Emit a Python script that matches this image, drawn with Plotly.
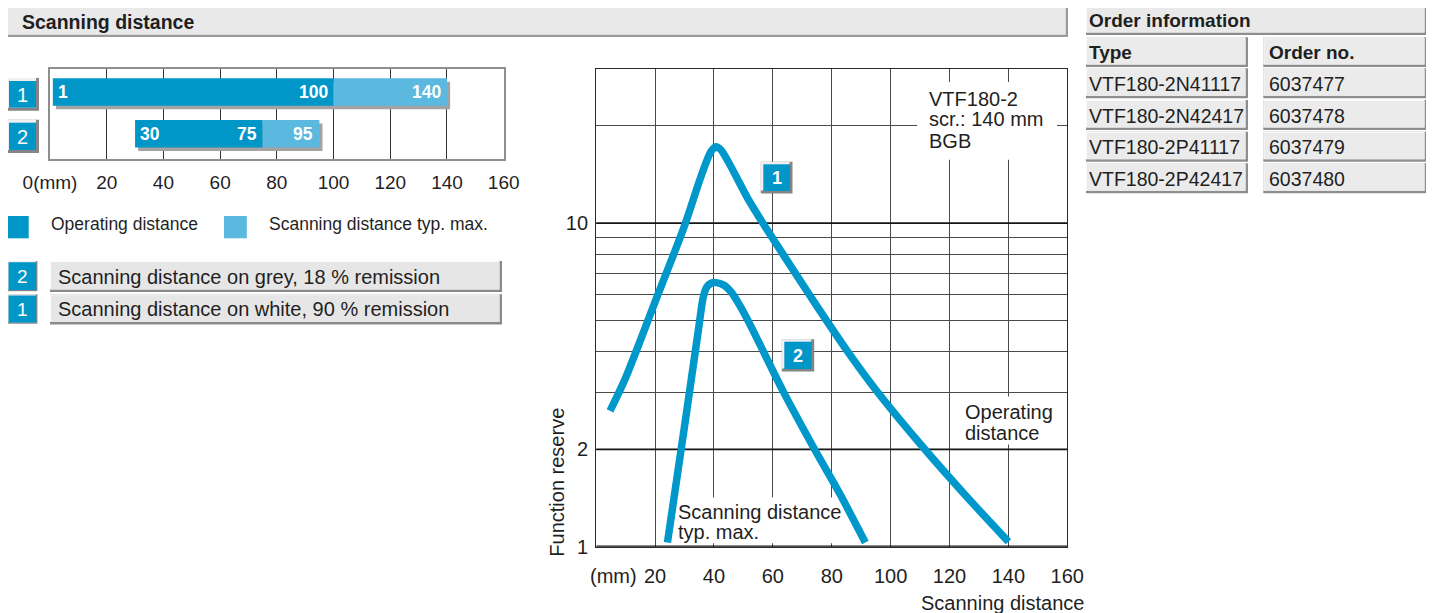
import math
import plotly.graph_objects as go

W, H = 1434, 613
OFF = 8  # page body margin of the HTML page, compensated here
FONT = "Liberation Sans, Arial, sans-serif"
INK = "#1f1f1f"
DARK_BLUE = "#0096c8"
LIGHT_BLUE = "#5bb8de"
CURVE_BLUE = "#0098cb"
SHADOW = "#a3a3a3"

# ---------------- data ----------------
# overview bars (mm)
bar_rows = [1, 2]
bar_row_labels = ["1", "2"]
op_start = [1, 30]
op_end = [100, 75]
max_end = [140, 95]
bar_ticks = [0, 20, 40, 60, 80, 100, 120, 140, 160]
bar_ticktext = ["0(mm)", "20", "40", "60", "80", "100", "120", "140", "160"]
legend_labels = ["Operating distance", "Scanning distance typ. max."]
remission_ids = ["2", "1"]
remission_labels = ["Scanning distance on grey, 18 % remission",
                    "Scanning distance on white, 90 % remission"]

# function reserve curves (x in mm, y = function reserve)
curve1_x = [4.7, 10, 20, 30, 35.5, 39, 40.7, 42.4, 45, 51.5, 58.5, 66, 75, 85, 95, 110, 125, 140]
curve1_y = [2.63, 3.33, 5.71, 9.82, 13.87, 16.67, 17.24, 16.83, 15.40, 11.91, 9.40, 7.38, 5.53,
            4.06, 3.05, 2.08, 1.455, 1.036]
curve2_x = [24.2, 30.3, 34.7, 36.4, 37.6, 39.0, 40.7, 43.4, 46.0, 48.8, 52.0, 63.6, 74.3, 82.7, 91.4]
curve2_y = [1.03, 2.46, 4.67, 5.93, 6.35, 6.52, 6.55, 6.43, 6.10, 5.56, 4.91, 3.01, 1.99, 1.46, 1.03]
main_x_ticks = [20, 40, 60, 80, 100, 120, 140, 160]
main_y_grid = [1, 2, 3, 4, 5, 6, 7, 8, 9, 10, 20]
main_y_labels = {1: "1", 2: "2", 10: "10"}
chart_note = ["VTF180-2", "scr.: 140 mm", "BGB"]

# order information
order_types = ["VTF180-2N41117", "VTF180-2N42417", "VTF180-2P41117", "VTF180-2P42417"]
order_numbers = ["6037477", "6037478", "6037479", "6037480"]

# ---------------- helpers ----------------
shapes = []
annotations = []


def px(x):
    return (x - OFF) / W


def py(y):
    return 1 - (y - OFF) / H


def rect(x0, y0, x1, y1, fill, layer="above"):
    shapes.append(dict(type="rect", xref="paper", yref="paper",
                       x0=px(x0), x1=px(x1), y0=py(y1), y1=py(y0),
                       fillcolor=fill, line=dict(width=0), layer=layer))


def text(x, y, s, size, color=INK, bold=False, xanchor="left", yanchor="middle", angle=0):
    annotations.append(dict(xref="paper", yref="paper", x=px(x), y=py(y),
                            text=f"<b>{s}</b>" if bold else s, showarrow=False,
                            xanchor=xanchor, yanchor=yanchor, textangle=angle,
                            font=dict(family=FONT, size=size, color=color)))


def cell(x0, y0, x1, y1, fill="#ebebeb", dark="#8e8e8e", light="#fbfbfb", d=2.5):
    rect(x0, y0, x1, y1, dark)
    rect(x0, y0, x1 - d, y1 - d, light)
    rect(x0 + 1, y0 + 1, x1 - d, y1 - d, fill)


def badge(x0, y0, x1, y1, label, size, bold=False, p=3, d=3):
    rect(x0 - p, y0 - p, x1 + p, y1 + p, "#858585")
    rect(x0 - p, y0 - p, x1 + p - d, y1 + p - d, "#f0f0f0")
    rect(x0, y0, x1, y1, DARK_BLUE)
    text((x0 + x1) / 2, (y0 + y1) / 2 + 0.5, label, size, "white", bold, xanchor="center")


# ---------------- figure ----------------
fig = go.Figure()

# overview bars
lengths_total = [m - s for s, m in zip(op_start, max_end)]
fig.add_trace(go.Bar(orientation="h", y=bar_rows, base=[s + 1.1 for s in op_start], x=lengths_total,
                     width=0.658, offset=-0.245, marker=dict(color=SHADOW, line=dict(width=0)),
                     xaxis="x2", yaxis="y2", hoverinfo="skip", showlegend=False))
fig.add_trace(go.Bar(orientation="h", y=bar_rows, base=op_start,
                     x=[e - s for s, e in zip(op_start, op_end)],
                     width=0.658, offset=-0.329, marker=dict(color=DARK_BLUE, line=dict(width=0)),
                     xaxis="x2", yaxis="y2", name=legend_labels[0], showlegend=False))
fig.add_trace(go.Bar(orientation="h", y=bar_rows, base=op_end,
                     x=[m - e for e, m in zip(op_end, max_end)],
                     width=0.658, offset=-0.329, marker=dict(color=LIGHT_BLUE, line=dict(width=0)),
                     xaxis="x2", yaxis="y2", name=legend_labels[1], showlegend=False))

# function reserve curves
for cx, cy in ((curve1_x, curve1_y), (curve2_x, curve2_y)):
    fig.add_trace(go.Scatter(x=cx, y=cy, mode="lines",
                             line=dict(color=CURVE_BLUE, width=7.5, shape="spline", smoothing=0.8),
                             xaxis="x", yaxis="y", hoverinfo="skip", showlegend=False))

# bar value labels
for r, s, e, m in zip(bar_rows, op_start, op_end, max_end):
    for xv, anchor, shift in ((s, "left", 3), (e, "right", -4), (m, "right", -4)):
        annotations.append(dict(xref="x2", yref="y2", x=xv, y=r, text=f"<b>{xv}</b>",
                                showarrow=False, xanchor=anchor, yanchor="middle", xshift=shift,
                                font=dict(family=FONT, size=17.5, color="white")))

# ---- header bar "Scanning distance"
cell(6, 6, 1068, 37, fill="#e9e9e9", dark="#9a9a9a")
text(20, 22.5, "Scanning distance", 19.5, bold=True)

# ---- row badges of the overview
for r, lab, (y0, y1) in zip(bar_rows, bar_row_labels, [(81, 107.7), (122.7, 150)]):
    badge(9, y0, 36, y1, lab, 20)

# ---- legend
rect(6, 216, 28.7, 238.3, DARK_BLUE)
text(49, 223.5, legend_labels[0], 17.5)
rect(224, 216, 246.8, 238.3, LIGHT_BLUE)
text(267, 223.5, legend_labels[1], 17.5)

# ---- remission label boxes
for lab, desc, (y0, y1) in zip(remission_ids, remission_labels, [(261, 292), (294.3, 324.5)]):
    badge(8.5, y0 + 1.2, 36.2, y1 - 2, lab, 19, p=1.2, d=1.5)
    cell(50, y0, 502, y1, fill="#e6e6e6", dark="#8a8a8a")
    text(56, (y0 + y1) / 2, desc, 20)

# ---- badges inside the main chart
badge(763.3, 164.3, 790, 191, "1", 18, bold=True, p=2.5, d=3)
badge(784.3, 341.7, 811.7, 369, "2", 18, bold=True, p=2.5, d=3)

# ---- main chart texts
for i, line in enumerate(chart_note):
    text(927, 98.5 + i * 21, line, 20)
text(963, 411.7, "Operating", 20)
text(963, 433.3, "distance", 20)
text(676, 511.7, "Scanning distance", 20)
text(676, 531.7, "typ. max.", 20)
text(556.7, 482, "Function reserve", 20, angle=-90, xanchor="center")
text(919, 603.3, "Scanning distance", 20)
text(613, 576, "(mm)", 20, xanchor="center")

# ---- order information table
cell(1086, 4, 1427, 35, fill="#e9e9e9", dark="#8e8e8e")
text(1087, 20.5, "Order information", 19, bold=True)
cell(1086, 37.3, 1248, 67, fill="#ebebeb")
cell(1263.3, 37.3, 1427, 67, fill="#ebebeb")
text(1087, 52.5, "Type", 19, bold=True)
text(1267, 52.5, "Order no.", 19, bold=True)
row_bounds = [(68.3, 98.3), (100, 130), (131.7, 161.7), (163.3, 193.3)]
for t, n, (y0, y1) in zip(order_types, order_numbers, row_bounds):
    cell(1086, y0, 1248, y1, fill="#ebebeb")
    cell(1263.3, y0, 1427, y1, fill="#ebebeb")
    text(1087, (y0 + y1) / 2 + 0.5, t, 19.5)
    text(1267, (y0 + y1) / 2 + 0.5, n, 19.5)

# ---- data-space shapes in the main chart (between grid and curves); log axis uses raw values
for v, w in ((2, 1.8), (10, 1.8), (1, 2.6)):
    shapes.append(dict(type="line", xref="x", yref="y", x0=0, x1=160, y0=v, y1=v,
                       line=dict(color="#151515", width=w), layer="between"))
for x0, x1, y0, y1 in ((109.0, 156.5, 15.7, 27.3),
                       (121.9, 159.6, 2.07, 2.91),
                       (26.4, 84.5, 1.025, 1.42)):
    shapes.append(dict(type="rect", xref="x", yref="y", x0=x0, x1=x1, y0=y0, y1=y1,
                       fillcolor="white", line=dict(width=0), layer="between"))

tick_font = dict(family=FONT, size=20, color=INK)
fig.update_layout(
    width=W, height=H, autosize=False,
    margin=dict(l=0, r=0, t=0, b=0, pad=0, autoexpand=False),
    paper_bgcolor="white", plot_bgcolor="white",
    barmode="overlay", hovermode=False, showlegend=False,
    xaxis=dict(domain=[px(596.2), px(1067.3)], range=[0, 160], anchor="y", automargin=False,
               tickmode="array", tickvals=main_x_ticks, ticktext=[str(v) for v in main_x_ticks],
               showgrid=True, gridcolor="#4a4a4a", gridwidth=1, zeroline=False,
               showline=True, mirror=True, linecolor="#2a2a2a", linewidth=1.3,
               ticks="outside", ticklen=11, tickcolor="rgba(0,0,0,0)", tickfont=tick_font),
    yaxis=dict(domain=[py(546.7), py(68.8)], type="log", range=[0, math.log10(30)], anchor="x",
               automargin=False, tickmode="array", tickvals=main_y_grid,
               ticktext=[main_y_labels.get(v, "") for v in main_y_grid],
               showgrid=True, gridcolor="#4a4a4a", gridwidth=1, zeroline=False,
               showline=True, mirror=True, linecolor="#2a2a2a", linewidth=1.3,
               ticks="outside", ticklen=3, tickcolor="rgba(0,0,0,0)", tickfont=tick_font),
    xaxis2=dict(domain=[px(50), px(503.7)], range=[0, 160], anchor="y2", automargin=False,
                tickmode="array", tickvals=bar_ticks, ticktext=bar_ticktext,
                showgrid=True, gridcolor="#333333", gridwidth=1, zeroline=False,
                showline=True, mirror=True, linecolor="#8f8f8f", linewidth=2,
                ticks="outside", ticklen=5, tickcolor="rgba(0,0,0,0)",
                tickfont=dict(family=FONT, size=19, color=INK)),
    yaxis2=dict(domain=[py(159), py(69)], range=[2.603, 0.4498], anchor="x2", automargin=False,
                showticklabels=False, showgrid=False, zeroline=False,
                showline=True, mirror=True, linecolor="#8f8f8f", linewidth=2),
    shapes=shapes,
    annotations=annotations,
)

fig.write_html("out.html")
